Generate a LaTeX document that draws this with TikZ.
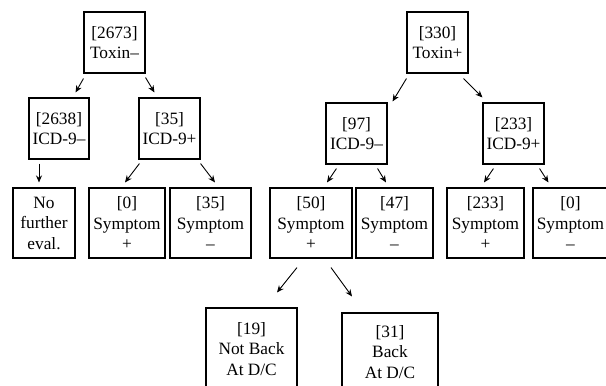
\documentclass[tikz,border=0pt]{standalone}
\usepackage{fontspec}
\setmainfont{Liberation Serif}
\usetikzlibrary{arrows.meta}
\tikzset{
  box/.style={draw, line width=1.1pt, inner sep=0pt, align=center,
    font=\fontsize{17.3pt}{20.5pt}\selectfont},
  arr/.style={line width=0.9pt, -{Stealth[length=7pt,width=6pt]}}
}
\begin{document}
\begin{tikzpicture}[x=1pt,y=-1pt]
\useasboundingbox (0,0) rectangle (606,386);
\clip (0,0) rectangle (606,386);
% left tree
\node[box, minimum width=61pt, minimum height=61pt] (t1) at (114.5,42.5) {[2673]\\Toxin–};
\node[box, minimum width=60pt, minimum height=61pt] (i1) at (59,128.5) {[2638]\\ICD-9–};
\node[box, minimum width=61pt, minimum height=61pt] (i2) at (169.5,128.5) {[35]\\ICD-9+};
\node[box, minimum width=62pt, minimum height=70pt] (s1) at (44,223) {No\\further\\eval.};
\node[box, minimum width=76pt, minimum height=70pt] (s2) at (127,223) {[0]\\Symptom\\+};
\node[box, minimum width=81pt, minimum height=70pt] (s3) at (210.5,223) {[35]\\Symptom\\–};
% right tree
\node[box, minimum width=61pt, minimum height=61pt] (t2) at (437.5,42.5) {[330]\\Toxin+};
\node[box, minimum width=61pt, minimum height=61pt] (i3) at (356.5,133.5) {[97]\\ICD-9–};
\node[box, minimum width=61pt, minimum height=61pt] (i4) at (513.5,133.5) {[233]\\ICD-9+};
\node[box, minimum width=82pt, minimum height=70pt] (s4) at (311,223) {[50]\\Symptom\\+};
\node[box, minimum width=77pt, minimum height=70pt] (s5) at (394.5,223) {[47]\\Symptom\\–};
\node[box, minimum width=77pt, minimum height=70pt] (s6) at (485.5,223) {[233]\\Symptom\\+};
\node[box, minimum width=75pt, minimum height=70pt] (s7) at (570.5,223) {[0]\\Symptom\\–};
\node[box, minimum width=91pt, minimum height=82pt] (b1) at (251.5,349) {[19]\\Not Back\\At D/C};
\node[box, minimum width=96pt, minimum height=78pt] (b2) at (390,352) {[31]\\Back\\At D/C};
% arrows
\draw[arr] ([shift={(0,5)}]t1.south west) -- ([shift={(-14,-5)}]i1.north east);
\draw[arr] ([shift={(0,4)}]t1.south east) -- ([shift={(16,-5)}]i2.north west);
\draw[arr] ([shift={(-20,4)}]i1.south) -- ([shift={(-5,-5)}]s1.north);
\draw[arr] ([shift={(1,4)}]i2.south west) -- ([shift={(-2,-5)}]s2.north);
\draw[arr] ([shift={(0,4)}]i2.south east) -- ([shift={(4.5,-5)}]s3.north);
\draw[arr] ([shift={(0,5)}]t2.south west) -- ([shift={(5,-1)}]i3.north east);
\draw[arr] ([shift={(-5,5)}]t2.south east) -- ([shift={(0,-5)}]i4.north west);
\draw[arr] ([shift={(11,4)}]i3.south west) -- ([shift={(16,-5)}]s4.north);
\draw[arr] ([shift={(-10,4)}]i3.south east) -- ([shift={(-8.5,-5)}]s5.north);
\draw[arr] ([shift={(11,4)}]i4.south west) -- ([shift={(-1.5,-5)}]s6.north);
\draw[arr] ([shift={(-5,4)}]i4.south east) -- ([shift={(16,-5)}]s7.north west);
\draw[arr] ([shift={(-14,9)}]s4.south) -- ([shift={(25.5,-15)}]b1.north);
\draw[arr] ([shift={(20,9)}]s4.south) -- ([shift={(-38,-16)}]b2.north);
\end{tikzpicture}
\end{document}
